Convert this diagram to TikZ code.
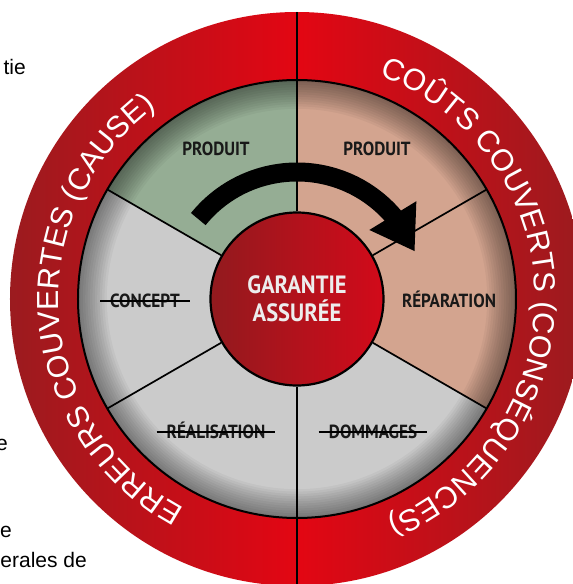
\documentclass[tikz,border=0pt]{standalone}
\usepackage{fontspec}
\usetikzlibrary{arrows.meta,bending,decorations.text}
\newfontfamily\ringfont{Liberation Sans}
\newfontfamily\labelfont[FakeStretch=0.9]{PT Sans}
\definecolor{ringdark}{HTML}{9B1B1F}
\definecolor{ringbright}{HTML}{E30613}
\definecolor{hubdark}{HTML}{921A1E}
\definecolor{hubbright}{HTML}{D20A1A}
\definecolor{segGray}{HTML}{CBCBCB}
\definecolor{segGreen}{HTML}{95AD94}
\definecolor{segSalmon}{HTML}{D3A48F}

\begin{document}
\begin{tikzpicture}[
		x=1pt, y=1pt,
		pagetext/.style={font=\ringfont\fontsize{21}{21}\selectfont, anchor=base east, inner sep=0pt},
		seglabel/.style={font=\labelfont\bfseries\fontsize{19}{19}\selectfont, text=black!90, text height=13pt, text depth=0pt, inner sep=0pt},
		struck/.style={seglabel, inner xsep=10pt},
		hub/.style={circle, draw=black, line width=2.2pt, minimum size=173pt, inner sep=0pt, left color=hubdark, right color=hubbright, align=center, text=black!7, font=\labelfont\bfseries\fontsize{25}{28}\selectfont},
		divider/.style={line width=1.7pt},
	]
	\useasboundingbox (-297,-285) rectangle (276,299);

	% Text of the page behind the wheel
	\node[pagetext] (txtA) at (-271,224) {tie};
	\node[pagetext] (txtB) at (-289,-151) {e};
	\node[pagetext] (txtC) at (-285,-238) {e};
	\node[pagetext] (txtD) at (-210,-268) {erales de};

	% Outer ring
	\shade[left color=ringdark, right color=ringdark, middle color=ringbright] (0,0) circle (287);

	% Segments
	\fill[segGreen] (0,0) -- (90:219) arc[start angle=90, end angle=150, radius=219] -- cycle;
	\fill[segSalmon] (0,0) -- (-30:219) arc[start angle=-30, end angle=90, radius=219] -- cycle;
	\fill[segGray] (0,0) -- (150:219) arc[start angle=150, end angle=330, radius=219] -- cycle;

	% Shadow at the rim
	\begin{scope}
		\clip (0,0) circle (219);
		\foreach \k in {1,...,12}
			\fill[black, opacity=0.04, even odd rule] (0,0) circle (219) circle ({219-2.4*\k});
	\end{scope}

	% Centre
	\node[hub] (hub) at (0,0) {GARANTIE\\ASSURÉE};

	% Dividers
	\foreach \a in {30,150,210,330}
		\draw[divider] (hub.\a) -- (\a:219);
	\draw[divider] (hub.north) -- (90:287);
	\draw[divider] (hub.south) -- (270:287);
	\draw[line width=2pt] (0,0) circle (219);

	% Arrow
	\draw[line width=19pt, -{Triangle[length=42pt, width=52pt]}] (141:127) arc[start angle=141, end angle=22, radius=127];

	% Labels
	\node[seglabel] (prodL) at (-81,150) {PRODUIT};
	\node[seglabel] (prodR) at (80,150) {PRODUIT};
	\node[struck] (concept) at (-152,-2) {CONCEPT};
	\node[seglabel] (repar) at (152,-2) {RÉPARATION};
	\node[struck] (realis) at (-81,-133) {RÉALISATION};
	\node[struck] (domm) at (76,-133) {DOMMAGES};
	\foreach \n in {concept,realis,domm}
		\draw[line width=1.2pt] (\n.west) -- (\n.east);

	% Ring texts
	\path[decorate, decoration={text along path, text align=center,
		text={|\ringfont\fontsize{30.4}{36}\selectfont\color{white}|ERREURS COUVERTES (CAUSE)}}]
		(254:238) arc[start angle=254, end angle=114, radius=238];
	\path[decorate, decoration={text along path, text align=center,
		text={|\ringfont\fontsize{30.4}{36}\selectfont\color{white}|COÛTS COUVERTS (CONSÉQUENCES)}}]
		(81:238) arc[start angle=81, end angle=-79, radius=238];
\end{tikzpicture}
\end{document}
